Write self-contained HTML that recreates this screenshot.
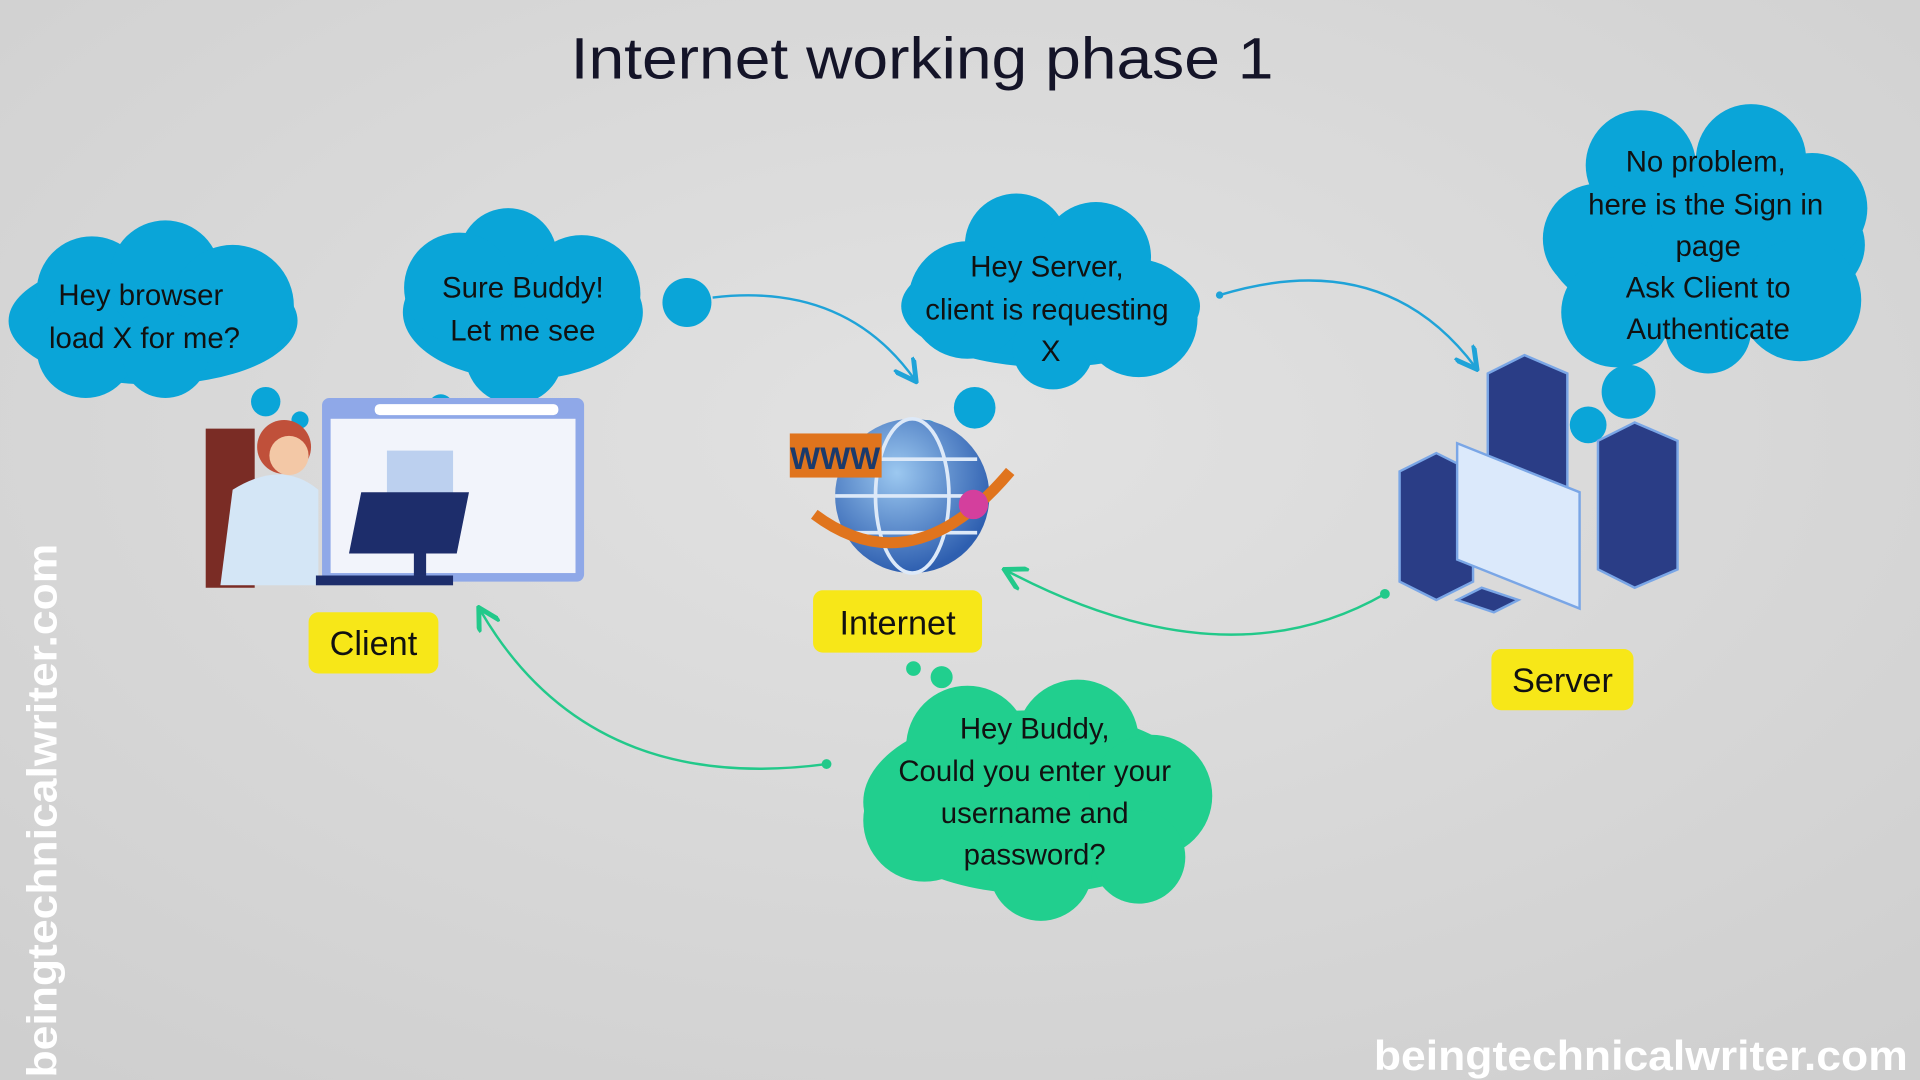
<!DOCTYPE html>
<html><head><meta charset="utf-8"><style>
html,body{margin:0;padding:0;background:#d8d8d8;}
svg{display:block}
text{font-family:"Liberation Sans",sans-serif;}
</style></head><body>
<svg width="1920" height="1080" viewBox="0 0 1568 882" xmlns="http://www.w3.org/2000/svg">
<defs>
<radialGradient id="bg" cx="50%" cy="40%" r="75%"><stop offset="0" stop-color="#e2e2e2"/><stop offset="1" stop-color="#cfcfcf"/></radialGradient>
<radialGradient id="globe" cx="40%" cy="35%" r="65%"><stop offset="0" stop-color="#9cc8f0"/><stop offset="1" stop-color="#2e5fb0"/></radialGradient>
<marker id="ab" markerWidth="10" markerHeight="10" refX="8" refY="5" orient="auto"><path d="M0,0 L9,5 L0,10" fill="none" stroke="#1fa3d8" stroke-width="2"/></marker>
<marker id="ag" markerWidth="10" markerHeight="10" refX="8" refY="5" orient="auto"><path d="M0,0 L9,5 L0,10" fill="none" stroke="#22c98a" stroke-width="2"/></marker>
</defs>
<rect width="1568" height="882" fill="url(#bg)"/>
<text x="753" y="64" text-anchor="middle" font-size="48" fill="#141428" textLength="574" lengthAdjust="spacingAndGlyphs">Internet working phase 1</text>

<g fill="#0aa5d8">
<ellipse cx="125" cy="262" rx="118" ry="52"/><circle cx="75" cy="238" r="45"/><circle cx="135" cy="225" r="45"/><circle cx="190" cy="250" r="50"/><circle cx="70" cy="285" r="40"/><circle cx="135" cy="290" r="35"/>
<ellipse cx="427" cy="255" rx="98" ry="55"/><circle cx="415" cy="210" r="40"/><circle cx="375" cy="235" r="45"/><circle cx="475" cy="240" r="48"/><circle cx="420" cy="290" r="40"/>
<ellipse cx="858" cy="250" rx="122" ry="50"/><circle cx="830" cy="200" r="42"/><circle cx="895" cy="210" r="45"/><circle cx="790" cy="245" r="48"/><circle cx="930" cy="260" r="48"/><circle cx="860" cy="285" r="33"/>
<ellipse cx="1393" cy="200" rx="130" ry="70"/><circle cx="1340" cy="135" r="45"/><circle cx="1430" cy="130" r="45"/><circle cx="1480" cy="170" r="45"/><circle cx="1305" cy="195" r="45"/><circle cx="1320" cy="255" r="45"/><circle cx="1470" cy="245" r="50"/><circle cx="1395" cy="270" r="35"/>
<circle cx="561" cy="247" r="20"/><circle cx="217" cy="328" r="12"/><circle cx="245" cy="343" r="7"/><circle cx="360" cy="332" r="10"/><circle cx="340" cy="345" r="6"/>
<circle cx="796" cy="333" r="17"/><circle cx="757" cy="354" r="11"/>
<circle cx="1330" cy="320" r="22"/><circle cx="1297" cy="347" r="15"/><circle cx="1272" cy="358" r="8"/>
</g>
<g fill="#21cf8e">
<ellipse cx="845" cy="655" rx="140" ry="75"/><circle cx="790" cy="610" r="50"/><circle cx="880" cy="605" r="50"/><circle cx="940" cy="650" r="50"/><circle cx="755" cy="670" r="50"/><circle cx="850" cy="710" r="42"/><circle cx="930" cy="700" r="38"/>
<circle cx="769" cy="553" r="9"/><circle cx="746" cy="546" r="6"/>
</g>
<g font-size="24" fill="#111" text-anchor="middle">
<text x="115" y="249">Hey browser</text><text x="118" y="284">load X for me?</text>
<text x="427" y="243">Sure Buddy!</text><text x="427" y="278">Let me see</text>
<text x="855" y="226">Hey Server,</text><text x="855" y="261">client is requesting</text><text x="858" y="295">X</text>
<text x="1393" y="140">No problem,</text><text x="1393" y="175">here is the Sign in</text><text x="1395" y="209">page</text><text x="1395" y="243">Ask Client to</text><text x="1395" y="277">Authenticate</text>
<text x="845" y="603">Hey Buddy,</text><text x="845" y="638">Could you enter your</text><text x="845" y="672">username and</text><text x="845" y="706">password?</text>
</g>
<path d="M582 243 Q690 230 747 310" fill="none" stroke="#1fa3d8" stroke-width="2" marker-end="url(#ab)"/>
<circle cx="996" cy="241" r="3" fill="#1fa3d8"/>
<path d="M996 241 Q1130 200 1205 300" fill="none" stroke="#1fa3d8" stroke-width="2" marker-end="url(#ab)"/>
<circle cx="1131" cy="485" r="4" fill="#22c98a"/>
<path d="M1131 485 Q1000 560 822 466" fill="none" stroke="#22c98a" stroke-width="2" marker-end="url(#ag)"/>
<circle cx="675" cy="624" r="4" fill="#22c98a"/>
<path d="M675 624 Q480 650 392 498" fill="none" stroke="#22c98a" stroke-width="2" marker-end="url(#ag)"/>

<rect x="263" y="325" width="214" height="150" rx="6" fill="#8fa8e8"/>
<rect x="270" y="342" width="200" height="126" fill="#f2f4fb"/>
<rect x="306" y="330" width="150" height="9" rx="4" fill="#fff"/>
<rect x="316" y="368" width="54" height="40" fill="#bcd0ef"/>
<path d="M168 350 h40 v130 h-40z" fill="#7a2c25"/>
<circle cx="232" cy="365" r="22" fill="#c0503a"/><circle cx="236" cy="372" r="16" fill="#f3c8a6"/>
<path d="M190 400 q40 -25 70 0 v78 h-80z" fill="#d4e6f6"/>
<path d="M295 402 h88 l-10 50 h-88z" fill="#1d2d6b"/>
<rect x="338" y="450" width="10" height="20" fill="#1d2d6b"/>
<rect x="258" y="470" width="112" height="8" fill="#1d2d6b"/>
<circle cx="745" cy="405" r="63" fill="url(#globe)"/>
<g stroke="#dde9f8" stroke-width="3" fill="none"><ellipse cx="745" cy="405" rx="30" ry="63"/><path d="M682 405 h126 M692 375 h106 M692 435 h106"/></g>
<path d="M665 420 q80 60 160 -35" stroke="#e0741d" stroke-width="9" fill="none"/>
<rect x="645" y="354" width="75" height="36" fill="#e0741d"/>
<text x="682" y="383" text-anchor="middle" font-size="26" font-weight="bold" fill="#1b3a6b">WWW</text>
<circle cx="795" cy="412" r="12" fill="#d43f9d"/>
<g fill="#2a3d86" stroke="#7aa6e6" stroke-width="2">
<path d="M1215 305 l30 -15 l35 15 v95 l-35 15 l-30 -15z"/>
<path d="M1305 360 l30 -15 l35 15 v105 l-35 15 l-30 -15z"/>
<path d="M1143 385 l30 -15 l30 15 v90 l-30 15 l-30 -15z"/>
<path d="M1190 362 l100 40 v95 l-100 -40z" fill="#dbe9fb"/>
<path d="M1190 490 l30 10 l20 -10 l-30 -10z"/>
</g>
<g font-size="28" fill="#111" text-anchor="middle">
<rect x="252" y="500" width="106" height="50" rx="8" fill="#f7e718"/><text x="305" y="535">Client</text>
<rect x="664" y="482" width="138" height="51" rx="8" fill="#f7e718"/><text x="733" y="518">Internet</text>
<rect x="1218" y="530" width="116" height="50" rx="8" fill="#f7e718"/><text x="1276" y="565">Server</text>
</g>
<text transform="translate(46 880) rotate(-90)" font-size="34" font-weight="bold" fill="#fff" textLength="436" lengthAdjust="spacingAndGlyphs">beingtechnicalwriter.com</text>
<text x="1122" y="874" font-size="34" font-weight="bold" fill="#fff" textLength="436" lengthAdjust="spacingAndGlyphs">beingtechnicalwriter.com</text>
</svg>
</body></html>
